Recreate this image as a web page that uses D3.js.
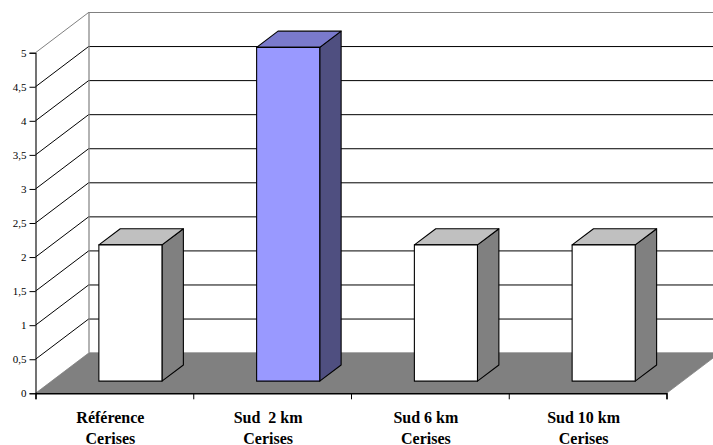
<!DOCTYPE html>
<html>
<head>
<meta charset="utf-8">
<script src="https://cdn.jsdelivr.net/npm/d3@7/dist/d3.min.js"></script>
<style>
html,body{margin:0;padding:0;background:#fff;overflow:hidden}
text{font-family:"Liberation Serif",serif;fill:#000}
.cat{font-weight:bold;font-size:16px;white-space:pre}
.tick text{font-size:11px}
</style>
</head>
<body>
<svg id="chart" width="713" height="445"></svg>
<script>
// Values and labels
const categories = [["Référence","Cerises"],["Sud  2 km","Cerises"],["Sud 6 km","Cerises"],["Sud 10 km","Cerises"]];
const values = [2, 4.9, 2, 2];
const barFill = ["#ffffff", "#9999ff", "#ffffff", "#ffffff"];
const barTop = ["#c0c0c0", "#7a7acc", "#c0c0c0", "#c0c0c0"];
const barSide = ["#808080", "#4f4f80", "#808080", "#808080"];
const yTicks = [0, 0.5, 1, 1.5, 2, 2.5, 3, 3.5, 4, 4.5, 5];

// Oblique projection: depth 0 is the front plane, depth 1 the back wall
const depthX = 53.5, depthY = -40.5;
const x = d3.scaleLinear().domain([0, 4]).range([35.5, 666.5]);
const y = d3.scaleLinear().domain([0, 5]).range([393.3, 52.7]);
const project = (cat, val, depth) => [x(cat) + depth * depthX, y(val) + depth * depthY];
const poly = pts => "M" + pts.map(p => p.join(",")).join("L") + "Z";

const svg = d3.select("#chart");
const GREY = "#808080";

// Back wall: gridlines and left edge
svg.append("g").selectAll("line").data(yTicks.slice(1)).join("line")
  .attr("x1", v => project(0, v, 1)[0]).attr("x2", 720)
  .attr("y1", v => project(0, v, 1)[1] + .3).attr("y2", v => project(0, v, 1)[1] + .3)
  .attr("stroke", v => v === 5 ? GREY : "#000").attr("stroke-width", 1);

// Side wall: oblique gridlines
svg.append("g").selectAll("line").data(yTicks.slice(1)).join("line")
  .attr("x1", v => project(0, v, 0)[0]).attr("y1", v => project(0, v, 0)[1])
  .attr("x2", v => project(0, v, 1)[0]).attr("y2", v => project(0, v, 1)[1])
  .attr("stroke", v => v === 5 ? GREY : "#000").attr("stroke-width", 1);

svg.append("line")
  .attr("x1", project(0, 0, 1)[0]).attr("x2", project(0, 0, 1)[0])
  .attr("y1", project(0, 0, 1)[1]).attr("y2", project(0, 5, 1)[1])
  .attr("stroke", GREY).attr("stroke-width", 1.2);

// Floor
svg.append("path")
  .attr("d", poly([project(0,0,0), project(4,0,0), project(4,0,1), project(0,0,1)]))
  .attr("fill", GREY).attr("stroke", GREY).attr("stroke-width", .8);

// Bars: occupy the middle of each band and of the depth
const bandShare = 0.4, depthStart = 0.3, depthEnd = 0.7;
const bars = svg.append("g").selectAll("g").data(values).join("g")
  .attr("stroke", "#000").attr("stroke-width", 1.1).attr("stroke-linejoin", "round");
const c0 = i => i + (1 - bandShare) / 2, c1 = i => c0(i) + bandShare;
bars.append("path").attr("fill", (d, i) => barSide[i])
  .attr("d", (d, i) => poly([project(c1(i),0,depthStart), project(c1(i),0,depthEnd), project(c1(i),d,depthEnd), project(c1(i),d,depthStart)]));
bars.append("path").attr("fill", (d, i) => barTop[i])
  .attr("d", (d, i) => poly([project(c0(i),d,depthStart), project(c1(i),d,depthStart), project(c1(i),d,depthEnd), project(c0(i),d,depthEnd)]));
bars.append("path").attr("fill", (d, i) => barFill[i])
  .attr("d", (d, i) => poly([project(c0(i),0,depthStart), project(c1(i),0,depthStart), project(c1(i),d,depthStart), project(c0(i),d,depthStart)]));

// Value axis on the front plane
const yAxis = d3.axisLeft(y).tickValues(yTicks).tickSize(6).tickPadding(3)
  .tickFormat(d => String(d).replace(".", ","));
const gy = svg.append("g").attr("transform", `translate(${x(0)},0)`).call(yAxis);
gy.select(".domain").attr("stroke", "#000").attr("stroke-width", 1.1);
gy.selectAll("text").attr("font-family", null).attr("font-size", null);

// Category axis: ticks fall on the band boundaries
const xAxis = d3.axisBottom(x).tickValues([0, 1, 2, 3, 4]).tickSize(6).tickFormat("");
const gx = svg.append("g").attr("transform", `translate(0,${y(0)})`).call(xAxis);
gx.select(".domain").attr("stroke", "#000").attr("stroke-width", 1.4);

// Two-line category labels
svg.append("g").selectAll("text").data(categories).join("text")
  .attr("class", "cat").attr("text-anchor", "middle")
  .attr("transform", (d, i) => `translate(${x(i + .5) - 4},0)`)
  .selectAll("tspan").data(d => d).join("tspan")
  .attr("x", 0).attr("y", (d, j) => 423 + j * 20.5).text(d => d);
</script>
</body>
</html>
